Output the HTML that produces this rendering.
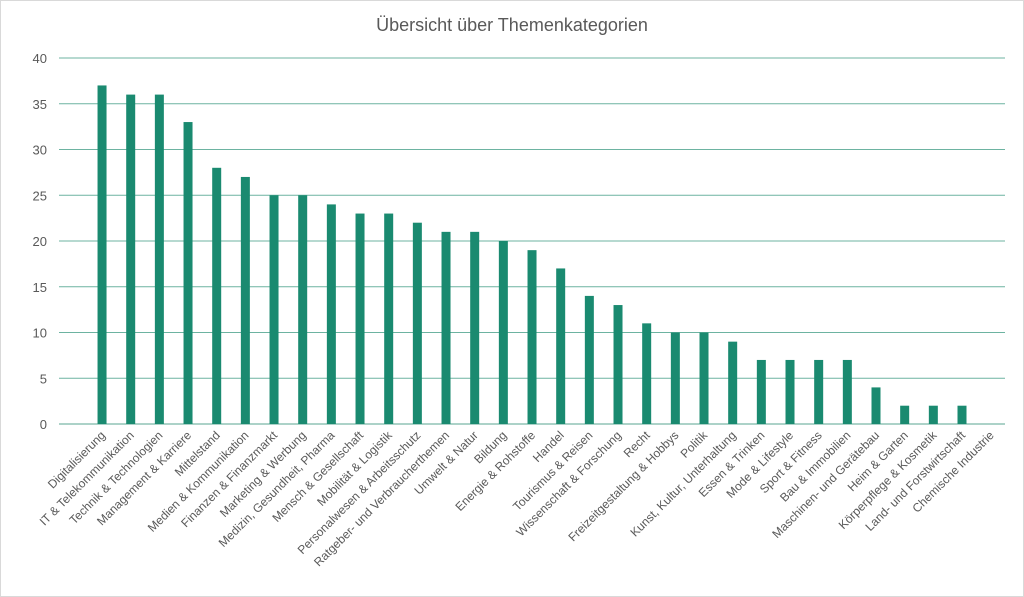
<!DOCTYPE html>
<html><head><meta charset="utf-8">
<style>
html,body{margin:0;padding:0;background:#fff;}
svg{display:block;font-family:"Liberation Sans",sans-serif;}
</style></head>
<body>
<svg id="chart" width="1024" height="597" viewBox="0 0 1024 597">
<rect x="0.5" y="0.5" width="1023" height="596" fill="#fff" stroke="#d9d9d9"/>
<text x="512" y="31" text-anchor="middle" font-size="18" fill="#595959">Übersicht über Themenkategorien</text>
<g id="grid"></g><g id="bars"></g><g id="xlabels"></g><g id="ylabels"></g>
</svg>
<script>
const categories=["Digitalisierung","IT & Telekommunikation","Technik & Technologien","Management & Karriere","Mittelstand","Medien & Kommunikation","Finanzen & Finanzmarkt","Marketing & Werbung","Medizin, Gesundheit, Pharma","Mensch & Gesellschaft","Mobilität & Logistik","Personalwesen & Arbeitsschutz","Ratgeber- und Verbraucherthemen","Umwelt & Natur","Bildung","Energie & Rohstoffe","Handel","Tourismus & Reisen","Wissenschaft & Forschung","Recht","Freizeitgestaltung & Hobbys","Politik","Kunst, Kultur, Unterhaltung","Essen & Trinken","Mode & Lifestyle","Sport & Fitness","Bau & Immobilien","Maschinen- und Gerätebau","Heim & Garten","Körperpflege & Kosmetik","Land- und Forstwirtschaft","Chemische Industrie"];
const values=[37,36,36,33,28,27,25,25,24,23,23,22,21,21,20,19,17,14,13,11,10,10,9,7,7,7,7,4,2,2,2,0];
const yTicks=[0,5,10,15,20,25,30,35,40];
const NS="http://www.w3.org/2000/svg";
const y0=424,y1=58,yMax=40,left=87.7,right=1005,gridLeft=59;
const bw=(right-left)/categories.length;
const y=v=>y0-(v/yMax)*(y0-y1);
const x=i=>left+bw*(i+0.5);
function mk(tag,attrs,parent){const e=document.createElementNS(NS,tag);for(const k in attrs)e.setAttribute(k,attrs[k]);document.getElementById(parent).appendChild(e);return e;}
yTicks.forEach(t=>{
 const l=mk("line",{x1:gridLeft,x2:right,y1:y(t),y2:y(t),stroke:t===0?"#5aa592":"#6db3a1","stroke-width":1},"grid");
 
 
 const tx=mk("text",{x:47,y:y(t)+5,"text-anchor":"end","font-size":13,fill:"#595959"},"ylabels");
 tx.textContent=t;
 
 
});
categories.forEach((c,i)=>{
 const h=y0-y(values[i]);
 const r=mk("rect",{x:x(i)-4.5,y:y(values[i]),width:9,height:h,fill:"#1a8a70"},"bars");
 
 
 const tx=mk("text",{x:x(i)+4,y:436,"text-anchor":"end","font-size":12,fill:"#595959",transform:`rotate(-45 ${x(i)+4} 436)`},"xlabels");
 tx.textContent=c;
 
 
});
</script>
</body></html>
